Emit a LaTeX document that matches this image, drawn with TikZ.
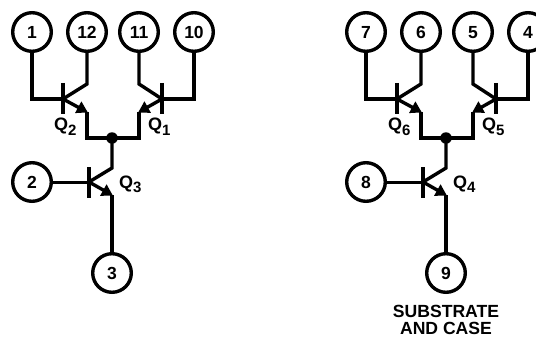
\documentclass[tikz,border=0pt]{standalone}
\usepackage{fontspec}
\setmainfont{Liberation Sans}
\usetikzlibrary{arrows.meta}
\tikzset{
  pinnode/.style={circle,draw,line width=3.4pt,minimum size=38.6pt,inner sep=0pt,font=\fontsize{17.5}{17.5}\selectfont\bfseries,text depth=0pt},
  wire/.style={line width=3.4pt,line join=miter},
  barline/.style={line width=4pt},
  arrowwire/.style={line width=3.4pt,-{Triangle[length=11pt,width=12.5pt]},shorten >=-1pt},
  qlabel/.style={anchor=base west,inner sep=0pt,font=\fontsize{18}{18}\selectfont\bfseries},
  junction/.style={circle,fill=black,minimum size=11.5pt,inner sep=0pt},
  note/.style={inner sep=0pt,align=center,font=\fontsize{17.6}{17}\selectfont\bfseries}
}
\newcommand{\qtext}[1]{Q\raisebox{-4.5pt}{\fontsize{15}{15}\selectfont #1}}
\begin{document}
\begin{tikzpicture}[x=1pt,y=-1pt]
\useasboundingbox (0,0) rectangle (536,337);
\clip (0,0) rectangle (536,337);
\foreach \n/\s/\pa/\pb/\pc/\pd/\pe/\pf/\qa/\qb/\qc in {L/0/1/12/11/10/2/3/2/1/3,R/334/7/6/5/4/8/9/6/5/4}{
  \begin{scope}[xshift=\s pt,name prefix=\n]
    % pins
    \node[pinnode] (pa) at (32,32) {\pa};
    \node[pinnode] (pb) at (87,32) {\pb};
    \node[pinnode] (pc) at (139,32) {\pc};
    \node[pinnode] (pd) at (194,32) {\pd};
    \node[pinnode] (pe) at (32,182) {\pe};
    \node[pinnode] (pf) at (112,273) {\pf};
    \node[junction] (dot) at (112,138) {};
    % named transistor points
    \coordinate (ba) at (63,99);  \coordinate (ca) at (87,84);  \coordinate (ea) at (87,112);
    \coordinate (bb) at (162,99); \coordinate (cb) at (139,84); \coordinate (eb) at (139,112);
    \coordinate (bc) at (89,182); \coordinate (cc) at (112,168); \coordinate (ec) at (112,195);
    % Q2
    \draw[barline] (63,83) -- (63,114);
    \draw[wire] (pa.south) |- (ba);
    \draw[wire] (pb.south) -- (ca) -- (ba);
    \draw[arrowwire] (ba) -- (ea);
    \draw[wire] (ea) |- (dot.center);
    % Q1
    \draw[barline] (162,83) -- (162,114);
    \draw[wire] (pd.south) |- (bb);
    \draw[wire] (pc.south) -- (cb) -- (bb);
    \draw[arrowwire] (bb) -- (eb);
    \draw[wire] (eb) |- (dot.center);
    % Q3
    \draw[barline] (89,167) -- (89,198);
    \draw[wire,line width=3pt] (pe.east) -- (bc);
    \draw[wire] (dot.center) -- (cc) -- (bc);
    \draw[arrowwire] (bc) -- (ec);
    \draw[wire] (ec) -- (pf.north);
    % labels
    \node[qlabel] (qa) at (54,131) {\qtext{\qa}};
    \node[qlabel] (qb) at (148,131) {\qtext{\qb}};
    \node[qlabel] (qc) at (119,188) {\qtext{\qc}};
  \end{scope}
}
\node[note] (sub) at (446,319.5) {SUBSTRATE\\AND CASE};
\end{tikzpicture}
\end{document}
